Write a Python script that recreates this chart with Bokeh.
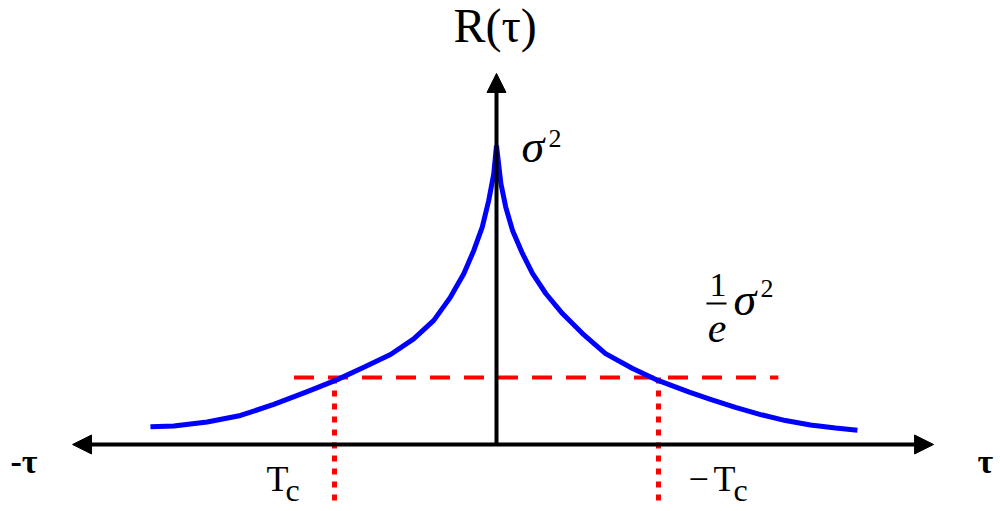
from bokeh.plotting import figure
from bokeh.models import Range1d, Arrow, NormalHead, Label
from bokeh.embed import file_html
from bokeh.resources import INLINE

# ---- data (tau in units of Tc, R in units of sigma^2) ----
tau_right = [0.0, 0.027, 0.057, 0.099, 0.160, 0.222, 0.304, 0.407, 0.531, 0.673,
             0.840, 0.984, 1.190, 1.321, 1.475, 1.630, 1.784, 1.938, 2.093, 2.228]
r_right = [1.0, 0.873, 0.794, 0.716, 0.639, 0.572, 0.505, 0.438, 0.371, 0.304,
           0.254, 0.217, 0.175, 0.151, 0.124, 0.100, 0.080, 0.065, 0.055, 0.048]
tau_left = [0.0, -0.017, -0.048, -0.088, -0.140, -0.202, -0.284, -0.387, -0.511,
            -0.654, -0.819, -0.983, -1.168, -1.375, -1.580, -1.786, -1.992, -2.136]
r_left = [1.0, 0.905, 0.816, 0.727, 0.649, 0.571, 0.493, 0.415, 0.353,
          0.301, 0.258, 0.217, 0.177, 0.134, 0.097, 0.075, 0.062, 0.059]

tc = 1.0               # correlation time
level = 0.224          # "1/e sigma^2" level as drawn
level_span = [-1.25, 1.74]
drop_bottom = -0.187
x_axis_span = [-2.617, 2.698]
y_axis_top = 1.241

FONT = "Liberation Serif"

p = figure(width=1000, height=511, output_backend="svg", toolbar_location=None,
           x_range=Range1d(-3.0617, 3.1111), y_range=Range1d(-0.2241, 1.4849),
           min_border=0, outline_line_color=None)
p.axis.visible = False
p.grid.visible = False

# axes as arrows
p.add_layout(Arrow(x_start=x_axis_span[0], y_start=0, x_end=x_axis_span[1], y_end=0,
                   line_width=4, line_color="black",
                   start=NormalHead(size=19, fill_color="black", line_color="black", line_width=1),
                   end=NormalHead(size=19, fill_color="black", line_color="black", line_width=1)))
p.add_layout(Arrow(x_start=0, y_start=0, x_end=0, y_end=y_axis_top,
                   line_width=4, line_color="black",
                   end=NormalHead(size=19, fill_color="black", line_color="black", line_width=1)))

# red reference lines
p.line(level_span, [level, level], line_color="red", line_width=4, line_dash="20 14")
for t in (-tc, tc):
    p.line([t, t], [level, drop_bottom], line_color="red", line_width=5, line_dash="6 7")

# blue curve
p.line(tau_left, r_left, line_color="blue", line_width=5, line_join="round")
p.line(tau_right, r_right, line_color="blue", line_width=5, line_join="round")

def lab(x, y, text, size, style="normal", align="left"):
    p.add_layout(Label(x=x, y=y, text=text, text_font=FONT, text_font_size=f"{size}px",
                       text_font_style=style, text_align=align, text_baseline="alphabetic",
                       text_color="black"))

lab(-0.009, 1.4023, "R(τ)", 48, align="center")
lab(0.154, 0.9953, "σ", 46, style="italic")
lab(0.321, 1.0247, "2", 26)

lab(1.367, 0.532, "1", 34, align="center")
p.segment(x0=[1.296], y0=[0.4716], x1=[1.420], y1=[0.4716], line_color="black", line_width=2)
lab(1.361, 0.388, "e", 42, style="italic", align="center")
lab(1.463, 0.4836, "σ", 46, style="italic")
lab(1.630, 0.523, "2", 26)

lab(-1.42, -0.117, "T", 36)
lab(-1.302, -0.153, "c", 32)
lab(1.185, -0.117, "−", 36)
lab(1.340, -0.117, "T", 36)
lab(1.463, -0.153, "c", 32)

lab(-3.0, -0.056, "-τ", 34, style="bold")
lab(2.969, -0.056, "τ", 34, style="bold")

open("out.html", "w").write(file_html(p, INLINE))
